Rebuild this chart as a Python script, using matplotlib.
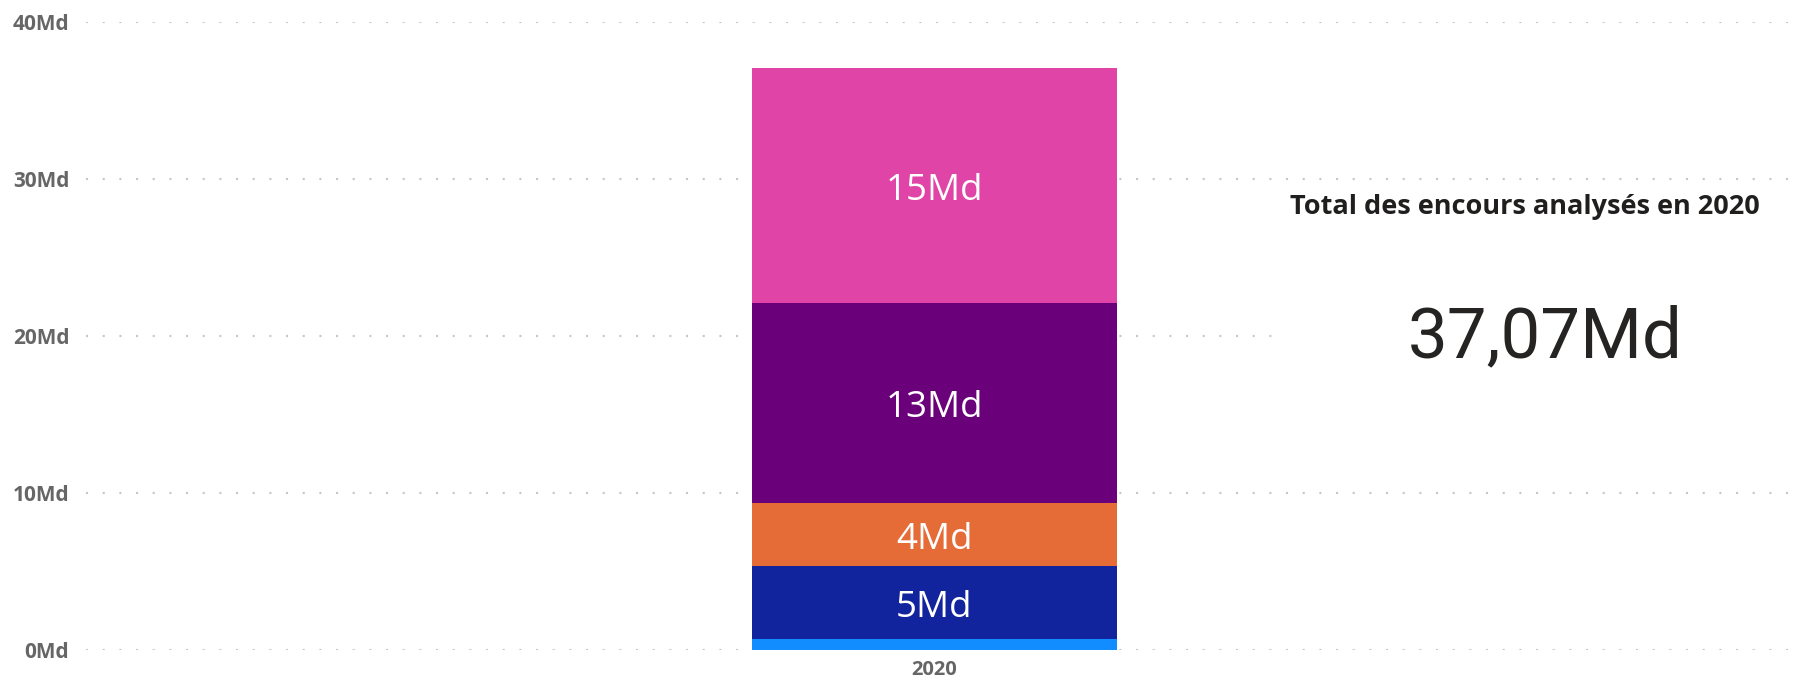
import matplotlib.pyplot as plt
import matplotlib.patches as patches

# data (Md = milliards)
year = "2020"
segments = [0.72, 4.62, 4.03, 12.73, 14.97]
colors = ["#118DFF", "#12239E", "#E66C37", "#6B007B", "#E044A7"]
yticks = [0, 10, 20, 30, 40]
total_label = "37,07Md"
card_title = "Total des encours analysés en 2020"

W, H = 1800, 677
fig = plt.figure(figsize=(W / 100, H / 100), dpi=100)

ax = fig.add_axes([86 / W, 1 - 650 / H, 1 - 86 / W, (650 - 22) / H])
ax.set_ylim(0, 40)
ax.set_xlim(-1.394, 1.423)

bottom = 0
for v, c in zip(segments, colors):
    ax.bar(0, v, width=0.6, bottom=bottom, color=c, zorder=2)
    if v > 2:
        # labels sit a little under the segment middle, like the original
        ax.text(0, bottom + v / 2 - 0.35, f"{round(v)}Md", ha="center", va="center",
                color="white", fontsize=26.5, family="Open Sans", zorder=3)
    bottom += v

ax.set_yticks(yticks)
ax.set_yticklabels([f"{t}Md" for t in yticks], fontsize=15, fontweight="bold",
                   color="#666666", family="Open Sans")
ax.set_xticks([0])
ax.set_xticklabels([year], fontsize=14.5, fontweight="bold", color="#666666",
                   family="Open Sans")
ax.tick_params(length=0)
ax.tick_params(axis="y", pad=12)
ax.tick_params(axis="x", pad=7)
ax.grid(axis="y", color="#C8C6C4", linestyle=(0, (1, 7)), linewidth=1.5, zorder=0)
ax.set_axisbelow(True)
for s in ax.spines.values():
    s.set_visible(False)

# card on the right
card = patches.Rectangle((1284 / W, 1 - 480 / H), 1 - 1284 / W, 298 / H,
                         transform=fig.transFigure, facecolor="white",
                         edgecolor="none", zorder=5)
fig.add_artist(card)
fig.text(1525 / W, 1 - 207 / H, card_title, ha="center", va="center",
         fontsize=19.5, fontweight="bold", color="#201F1E", family="Open Sans", zorder=6)
fig.text(1545 / W, 1 - 338 / H, total_label, ha="center", va="center",
         fontsize=51, color="#252423", family="Roboto", zorder=6)

fig.savefig("out.png", dpi=100)
